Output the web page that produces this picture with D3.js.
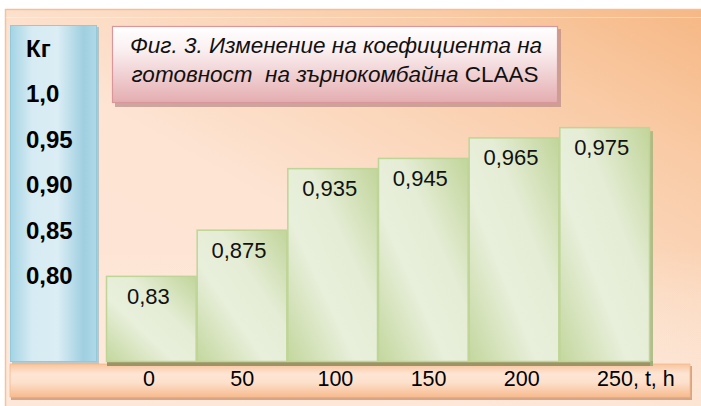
<!DOCTYPE html>
<html>
<head>
<meta charset="utf-8">
<script src="https://cdn.jsdelivr.net/npm/d3@7"></script>
<style>
  html, body { margin: 0; padding: 0; background: #ffffff; }
  svg { display: block; }
</style>
</head>
<body>
<svg id="chart" width="701" height="406"></svg>
<script>
// Operating hours (x categories) and readiness coefficient per step
const categories = ["0", "50", "100", "150", "200", "250"];
const values = [0.83, 0.875, 0.935, 0.945, 0.965, 0.975];
// Labels listed in the left-hand scale panel
const yPanelLabels = ["Кг", "1,0", "0,95", "0,90", "0,85", "0,80"];
const xUnitSuffix = ", t, h";
const titleLine1 = "Фиг. 3. Изменение на коефициента на";
const titleLine2Italic = "готовност  на зърнокомбайна ";
const titleLine2Plain = "CLAAS";

const svg = d3.select("#chart");
const defs = svg.append("defs");
const FONT = "'Liberation Sans', Arial, sans-serif";

const fmt = d3.formatLocale({ decimal: ",", thousands: " ", grouping: [3], currency: ["", ""] }).format(".3~f");

function linGrad(id, x1, y1, x2, y2, stops) {
  const g = defs.append("linearGradient").attr("id", id)
    .attr("x1", x1).attr("y1", y1).attr("x2", x2).attr("y2", y2);
  stops.forEach(([o, c]) => g.append("stop").attr("offset", o).attr("stop-color", c));
}

linGrad("bgGrad", 0, 1, 1, 0, [[0, "#fde6d7"], [0.45, "#fde4d3"], [0.8, "#f9cba6"], [1, "#f6b784"]]);
linGrad("bgGrad2", 0, 0, 0, 1, [[0, "rgba(255,255,255,0)"], [0.6, "rgba(255,255,255,0)"], [1, "rgba(253,232,218,0.5)"]]);
linGrad("blueGrad", 0, 0, 1, 0, [[0, "#a4d4e4"], [0.25, "#d6ebf3"], [0.55, "#dbedf5"], [0.85, "#9fcfe0"], [1, "#b0d9e7"]]);
linGrad("titleGrad", 0, 0, 0, 1, [[0, "#ffffff"], [0.3, "#fbf0f1"], [1, "#e4adb0"]]);
linGrad("barGrad", 0, 1, 1, 0, [[0, "#c3d79d"], [0.38, "#e8efdb"], [0.62, "#e5edd6"], [1, "#c1d59a"]]);
linGrad("axisGrad", 0, 0, 0, 1, [[0, "#f8c59d"], [0.3, "#fde5d4"], [0.55, "#fde1ce"], [1, "#f7bb8e"]]);

// Background panel
svg.append("rect").attr("x", 5).attr("y", 9).attr("width", 700).attr("height", 400)
  .attr("fill", "url(#bgGrad)");
svg.append("rect").attr("x", 5).attr("y", 9).attr("width", 700).attr("height", 400)
  .attr("fill", "url(#bgGrad2)");
svg.append("line").attr("x1", 5).attr("x2", 701).attr("y1", 9.5).attr("y2", 9.5)
  .attr("stroke", "#f7be93").attr("stroke-width", 1.5);
svg.append("line").attr("x1", 5.5).attr("x2", 5.5).attr("y1", 9).attr("y2", 406)
  .attr("stroke", "#f7c29b").attr("stroke-width", 1.5);
svg.append("line").attr("x1", 6).attr("x2", 701).attr("y1", 17.5).attr("y2", 17.5)
  .attr("stroke", "#ffffff").attr("stroke-opacity", 0.35);

// Left scale panel
svg.append("rect").attr("x", 12).attr("y", 27).attr("width", 87).attr("height", 337)
  .attr("fill", "#8fb0bd").attr("opacity", 0.6);
svg.append("rect").attr("x", 10.5).attr("y", 25.5).attr("width", 86).attr("height", 336)
  .attr("fill", "url(#blueGrad)").attr("stroke", "#92cadc").attr("stroke-width", 1);

const yPanel = d3.scalePoint().domain(yPanelLabels).range([57, 284]);
svg.append("g").selectAll("text").data(yPanelLabels).join("text")
  .attr("x", 26).attr("y", d => yPanel(d))
  .attr("font-family", FONT)
  .attr("font-weight", "bold").attr("font-size", 24).attr("fill", "#000")
  .text(d => d);

// Title box
svg.append("rect").attr("x", 115).attr("y", 29).attr("width", 446).attr("height", 78)
  .attr("fill", "#b58585").attr("opacity", 0.65);
svg.append("rect").attr("x", 112.5).attr("y", 26.5).attr("width", 445).attr("height", 76)
  .attr("fill", "url(#titleGrad)").attr("stroke", "#d9979b").attr("stroke-width", 1.2);

const titleG = svg.append("g")
  .attr("font-family", FONT)
  .attr("font-size", 22.5).attr("fill", "#111");
titleG.append("text").attr("x", 336).attr("y", 53).attr("text-anchor", "middle")
  .attr("font-style", "italic").text(titleLine1);
const t2 = titleG.append("text").attr("x", 335).attr("y", 82).attr("text-anchor", "middle")
  .style("white-space", "pre");
t2.append("tspan").attr("font-style", "italic").text(titleLine2Italic);
t2.append("tspan").text(titleLine2Plain);

// Scales
const x = d3.scaleBand().domain(categories).range([106, 650]).paddingInner(0).paddingOuter(0);
const y = d3.scaleLinear().domain([0.746, 1.0]).range([362, 101.5]);
const xLabel = d3.scalePoint().domain(categories).range([149, 615]);

// Axis band
svg.append("rect").attr("x", 11).attr("y", 366).attr("width", 681).attr("height", 34)
  .attr("fill", "#c98f68").attr("opacity", 0.75);
svg.append("rect").attr("x", 10).attr("y", 364).attr("width", 680).attr("height", 33)
  .attr("fill", "url(#axisGrad)").attr("stroke", "#f5b98d").attr("stroke-width", 0.8);

// Bar shadow under the row of bars
const last = categories[categories.length - 1];
svg.append("rect")
  .attr("x", x(categories[0]) + 1).attr("y", 361)
  .attr("width", x(last) + x.bandwidth() - x(categories[0]) + 2).attr("height", 5)
  .attr("fill", "#9d9466");
svg.append("rect")
  .attr("x", x(last) + x.bandwidth()).attr("y", y(values[values.length - 1]) + 4)
  .attr("width", 3).attr("height", 362 - y(values[values.length - 1]))
  .attr("fill", "#9fb57a").attr("opacity", 0.8);

// Bars
const data = categories.map((c, i) => ({ c, v: values[i] }));
svg.append("g").selectAll("rect").data(data).join("rect")
  .attr("x", d => x(d.c) + 0.5)
  .attr("y", d => y(d.v) + 0.5)
  .attr("width", x.bandwidth() - 1)
  .attr("height", d => y(0.746) - y(d.v) - 1)
  .attr("fill", "url(#barGrad)")
  .attr("stroke", "#bfd497").attr("stroke-width", 1.5);

// Value labels
svg.append("g").selectAll("text").data(data).join("text")
  .attr("x", d => x(d.c) + x.bandwidth() / 2 - 3)
  .attr("y", d => y(d.v) + 28)
  .attr("text-anchor", "middle")
  .attr("font-family", FONT)
  .attr("font-size", 22).attr("fill", "#111")
  .text(d => fmt(d.v));

// Category labels along the bottom band
const xg = svg.append("g")
  .attr("font-family", FONT)
  .attr("font-size", 21.5).attr("fill", "#000");
xg.selectAll("text.cat").data(categories).join("text").attr("class", "cat")
  .attr("x", d => xLabel(d)).attr("y", 386).attr("text-anchor", "middle")
  .text(d => d);
const lastLabel = xg.selectAll("text.cat").filter(d => d === last);
const lastW = lastLabel.node().getComputedTextLength();
xg.append("text").attr("x", xLabel(last) + lastW / 2).attr("y", 386)
  .text(xUnitSuffix);
</script>
</body>
</html>
